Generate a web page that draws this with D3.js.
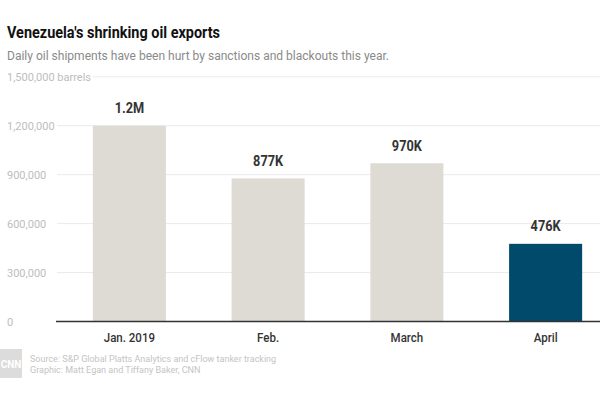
<!DOCTYPE html>
<html><head><meta charset="utf-8">
<script src="https://cdn.jsdelivr.net/npm/d3@7"></script>
<style>body{margin:0;background:#fff}svg{display:block}</style>
</head><body>
<svg id="c" width="600" height="400"></svg>
<script>
const categories = ["Jan. 2019", "Feb.", "March", "April"];
const values = [1200000, 877000, 970000, 476000];
const valueLabels = ["1.2M", "877K", "970K", "476K"];
const tickValues = [0, 300000, 600000, 900000, 1200000, 1500000];
const tickLabels = ["0", "300,000", "600,000", "900,000", "1,200,000", "1,500,000 barrels"];
const title = "Venezuela's shrinking oil exports";
const subtitle = "Daily oil shipments have been hurt by sanctions and blackouts this year.";
const sourceLines = ["Source: S&P Global Platts Analytics and cFlow tanker tracking", "Graphic: Matt Egan and Tiffany Baker, CNN"];

const svg = d3.select("#c");
const font = "Roboto, 'Noto Sans', sans-serif";

function condense(sel, k) {
  sel.each(function () {
    const w = this.getComputedTextLength();
    d3.select(this).attr("textLength", w * k).attr("lengthAdjust", "spacingAndGlyphs");
  });
}

const y = d3.scaleLinear().domain([0, 1500000]).range([321.5, 76.75]);
const x = d3.scaleBand().domain(categories).range([60, 615]).paddingInner(0.4736).paddingOuter(0.2368);

// title
svg.append("text").attr("x", 7).attr("y", 38).text(title)
  .attr("font-family", font).attr("font-weight", 700).attr("font-size", 17)
  .attr("fill", "#111").attr("textLength", 213).attr("lengthAdjust", "spacingAndGlyphs");
svg.append("text").attr("x", 7).attr("y", 60).text(subtitle)
  .attr("font-family", font).attr("font-size", 12.5)
  .attr("fill", "#8a8a8a").attr("textLength", 382).attr("lengthAdjust", "spacingAndGlyphs");

// gridlines
const grid = svg.append("g");
tickValues.forEach((v, i) => {
  if (v === 0) return;
  const x0 = i === tickValues.length - 1 ? 93 : 57;
  grid.append("line").attr("x1", x0).attr("x2", 600)
    .attr("y1", y(v)).attr("y2", y(v)).attr("stroke", "#ebebeb").attr("stroke-width", 1);
});
// tick labels
tickValues.forEach((v, i) => {
  svg.append("text").attr("x", 7).attr("y", y(v) + 4).text(tickLabels[i])
    .attr("font-family", font).attr("font-size", 11).attr("fill", "#bdbdbd");
});

// bars
svg.append("g").selectAll("rect").data(values).join("rect")
  .attr("x", (d, i) => x(categories[i]))
  .attr("width", x.bandwidth())
  .attr("y", d => y(d))
  .attr("height", d => y(0) - y(d))
  .attr("fill", (d, i) => i === values.length - 1 ? "#024a6b" : "#dedbd4");

// baseline
svg.append("line").attr("x1", 56).attr("x2", 600).attr("y1", y(0)).attr("y2", y(0))
  .attr("stroke", "#333").attr("stroke-width", 1.5);

// value labels
svg.append("g").selectAll("text").data(values).join("text")
  .attr("x", (d, i) => x(categories[i]) + x.bandwidth() / 2)
  .attr("y", d => y(d) - 12.5)
  .attr("text-anchor", "middle").text((d, i) => valueLabels[i])
  .attr("font-family", font).attr("font-weight", 700).attr("font-size", 15)
  .attr("fill", "#333").call(condense, 0.85);

// category labels (axis)
const xAxis = svg.append("g").attr("transform", `translate(0,${y(0)})`)
  .call(d3.axisBottom(x).tickSize(0).tickPadding(12));
xAxis.select(".domain").remove();
xAxis.selectAll("text").attr("font-family", font).attr("font-size", 12.5)
  .attr("font-weight", 500).attr("fill", "#333").call(condense, 0.92);

// logo
svg.append("rect").attr("x", 0).attr("y", 349).attr("width", 22).attr("height", 29).attr("fill", "#dcdcdc");
svg.append("text").attr("x", 11).attr("y", 367.5).attr("text-anchor", "middle").text("CNN")
  .attr("font-family", font).attr("font-weight", 700).attr("font-size", 10).attr("fill", "#fff");

// source
sourceLines.forEach((s, i) => {
  svg.append("text").attr("x", 30).attr("y", 362 + i * 10.5).text(s)
    .attr("font-family", font).attr("font-size", 9).attr("fill", "#c4c4c4");
});
</script>
</body></html>
